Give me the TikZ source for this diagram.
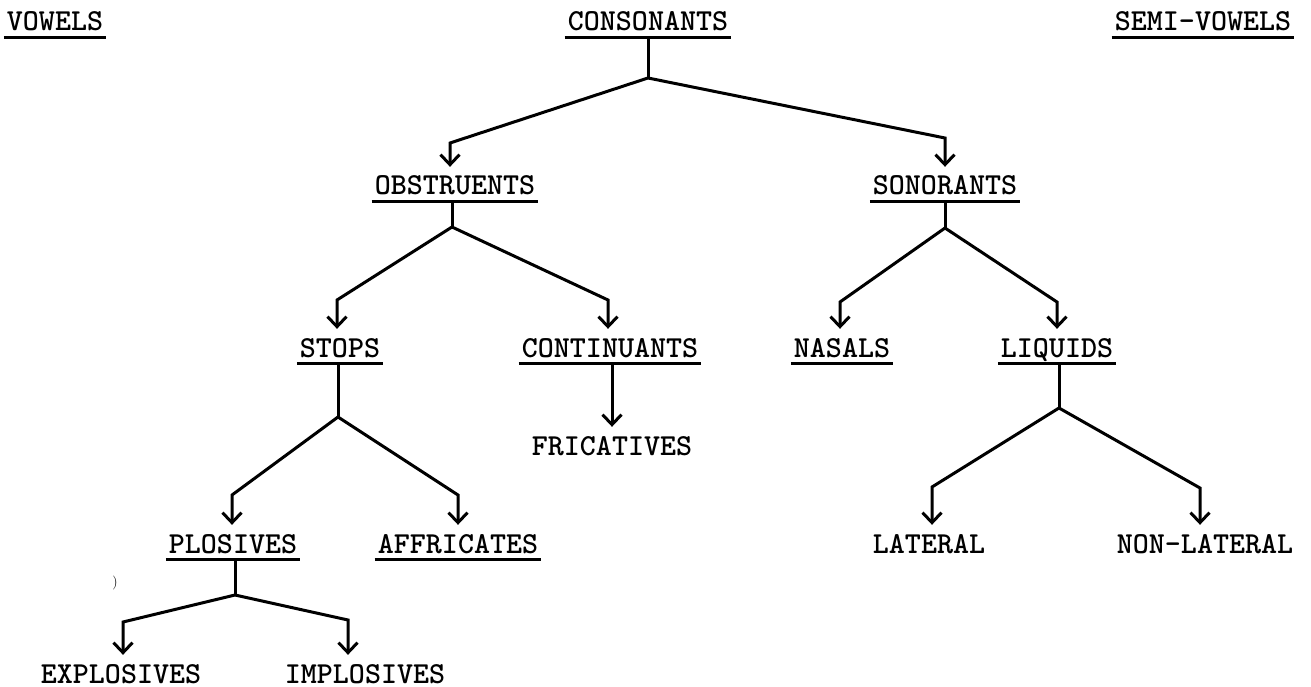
\documentclass[tikz,border=0pt]{standalone}
\usetikzlibrary{arrows.meta}
\newcommand{\labfont}{\fontsize{30.5}{36}\selectfont\ttfamily\bfseries}
\tikzset{
  lab/.style={font=\labfont, inner sep=0pt, text depth=0pt, anchor=base},
  uline/.style={line width=3pt},
  conn/.style={line width=3pt, line join=miter, -{Straight Barb[length=10pt,width=19pt,line width=3pt]}, shorten >=9pt},
  stem/.style={line width=3pt},
}
\begin{document}
\begin{tikzpicture}[x=1pt,y=-1pt]
\useasboundingbox (0,0) rectangle (1311,687);
% labels
\node[lab] (vow)    at (55,31)   {VOWELS};
\node[lab] (cons)   at (648,31)  {CONSONANTS};
\node[lab] (semi)   at (1203,31) {SEMI-VOWELS};
\node[lab] (obs)    at (455,195) {OBSTRUENTS};
\node[lab] (son)    at (945,195) {SONORANTS};
\node[lab] (stops)  at (340,357) {STOPS};
\node[lab] (cont)   at (610,357) {CONTINUANTS};
\node[lab] (nas)    at (842,357) {NASALS};
\node[lab] (liq)    at (1057,357) {LIQUIDS};
\node[lab] (fric)   at (612,455) {FRICATIVES};
\node[lab] (plos)   at (233,553) {PLOSIVES};
\node[lab] (aff)    at (458,553) {AFFRICATES};
\node[lab] (lat)    at (929,553) {LATERAL};
\node[lab] (nonlat) at (1205,553) {NON-LATERAL};
\node[lab] (expl)   at (121,683) {EXPLOSIVES};
\node[lab] (impl)   at (365,683) {IMPLOSIVES};
\node[font=\fontsize{14}{16}\selectfont, inner sep=0pt] (mark) at (115,583) {)};
% underlines
\foreach \n in {vow,cons,semi,obs,son,stops,cont,nas,liq,plos,aff}
  \draw[uline] ([xshift=-3pt,yshift=-6pt]\n.south west) -- ([xshift=3pt,yshift=-6pt]\n.south east);
% junctions and corners
\coordinate (j0) at (648,78);
\coordinate (c0a) at (450,143);
\coordinate (c0b) at (945,138);
\coordinate (j1) at (452,227);
\coordinate (c1a) at (337,300);
\coordinate (c1b) at (608,300);
\coordinate (j2) at (945,228);
\coordinate (c2a) at (840,302);
\coordinate (c2b) at (1057,302);
\coordinate (j3) at (338,417);
\coordinate (c3a) at (232,495);
\coordinate (c3b) at (458,495);
\coordinate (j4) at (1059,408);
\coordinate (c4a) at (932,487);
\coordinate (c4b) at (1200,488);
\coordinate (j5) at (235,595);
\coordinate (c5a) at (123,622);
\coordinate (c5b) at (348,620);
% stems
\draw[stem] ([yshift=-7pt]cons.south -| j0) -- (j0);
\draw[stem] ([yshift=-7pt]obs.south -| j1) -- (j1);
\draw[stem] ([yshift=-7pt]son.south -| j2) -- (j2);
\draw[stem] ([yshift=-7pt]stops.south -| j3) -- (j3);
\draw[stem] ([yshift=-7pt]liq.south -| j4) -- (j4);
\draw[stem] ([yshift=-7pt]plos.south -| j5) -- (j5);
% branches
\draw[conn] (j0) -- (c0a) -- (c0a |- obs.north);
\draw[conn] (j0) -- (c0b) -- (c0b |- son.north);
\draw[conn] (j1) -- (c1a) -- (c1a |- stops.north);
\draw[conn] (j1) -- (c1b) -- (c1b |- cont.north);
\draw[conn] (j2) -- (c2a) -- (c2a |- nas.north);
\draw[conn] (j2) -- (c2b) -- (c2b |- liq.north);
\draw[conn] (j3) -- (c3a) -- (c3a |- plos.north);
\draw[conn] (j3) -- (c3b) -- (c3b |- aff.north);
\draw[conn] (j4) -- (c4a) -- (c4a |- lat.north);
\draw[conn] (j4) -- (c4b) -- (c4b |- nonlat.north);
\draw[conn] (j5) -- (c5a) -- (c5a |- expl.north);
\draw[conn] (j5) -- (c5b) -- (c5b |- impl.north);
\draw[conn] ([yshift=-7pt]cont.south -| fric) -- (fric.north);
\end{tikzpicture}
\end{document}
